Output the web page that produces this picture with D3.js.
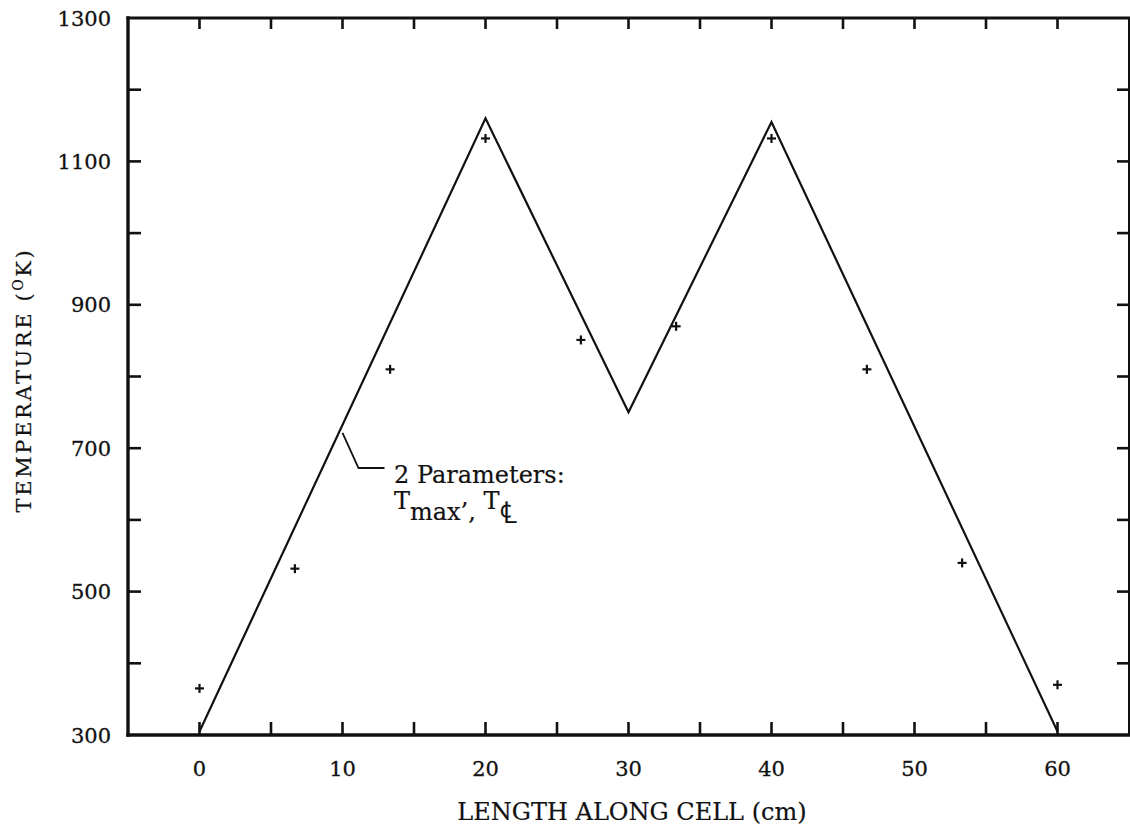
<!DOCTYPE html>
<html>
<head>
<meta charset="utf-8">
<script src="https://cdn.jsdelivr.net/npm/d3@7"></script>
<style>
  html, body { margin: 0; padding: 0; background: #fff; }
  svg { display: block; }
  text { font-family: "DejaVu Serif", "Liberation Serif", serif; fill: #111; }
</style>
</head>
<body>
<svg id="chart" width="1130" height="830"></svg>
<script>
// Two-parameter model profile (piecewise linear)
const modelX = [0, 20, 30, 40, 60];
const modelT = [305, 1160, 750, 1155, 305];

// Measured temperatures along the cell
const measX = [0, 6.67, 13.33, 20, 26.67, 33.33, 40, 46.67, 53.33, 60];
const measT = [365, 532, 810, 1132, 851, 870, 1132, 810, 540, 370];

// Axis tick values
const xTickLabels = [0, 10, 20, 30, 40, 50, 60];
const xTicksAll = [0, 5, 10, 15, 20, 25, 30, 35, 40, 45, 50, 55, 60];
const yTickLabels = [300, 500, 700, 900, 1100, 1300];
const yTicksAll = [400, 500, 600, 700, 800, 900, 1000, 1100, 1200];

const svg = d3.select("#chart");
const x = d3.scaleLinear().domain([-5, 65]).range([128, 1129]);
const y = d3.scaleLinear().domain([300, 1300]).range([735, 18]);

const ink = "#111";

// Frame
const frame = svg.append("g").attr("stroke", ink).attr("fill", "none").attr("stroke-linecap", "square");
frame.append("line").attr("x1", x(-5)).attr("x2", x(-5)).attr("y1", y(300)).attr("y2", y(1300)).attr("stroke-width", 3.4);
frame.append("line").attr("x1", x(-5)).attr("x2", x(65)).attr("y1", y(300)).attr("y2", y(300)).attr("stroke-width", 3.4);
frame.append("line").attr("x1", x(-5)).attr("x2", x(65)).attr("y1", y(1300)).attr("y2", y(1300)).attr("stroke-width", 3.2);
frame.append("line").attr("x1", x(65)).attr("x2", x(65)).attr("y1", y(300)).attr("y2", y(1300)).attr("stroke-width", 2);

// Inward ticks on all four sides
const ticks = svg.append("g").attr("stroke", ink).attr("stroke-width", 2.6);
ticks.selectAll(".tb").data(xTicksAll).join("line")
  .attr("x1", d => x(d)).attr("x2", d => x(d))
  .attr("y1", y(300)).attr("y2", y(300) - 13);
ticks.selectAll(".tt").data(xTicksAll).join("line")
  .attr("x1", d => x(d)).attr("x2", d => x(d))
  .attr("y1", y(1300)).attr("y2", y(1300) + 11);
ticks.selectAll(".tl").data(yTicksAll).join("line")
  .attr("x1", x(-5)).attr("x2", x(-5) + 13)
  .attr("y1", d => y(d)).attr("y2", d => y(d));
ticks.selectAll(".tr").data(yTicksAll).join("line")
  .attr("x1", x(65)).attr("x2", x(65) - 12)
  .attr("y1", d => y(d)).attr("y2", d => y(d));

// Tick labels
svg.append("g").selectAll("text").data(xTickLabels).join("text")
  .attr("x", d => x(d)).attr("y", 776)
  .attr("text-anchor", "middle").attr("font-size", 21)
  .attr("stroke", ink).attr("stroke-width", 0.3)
  .text(d => d);
svg.append("g").selectAll("text").data(yTickLabels).join("text")
  .attr("x", 111).attr("y", d => y(d) + 7.5)
  .attr("text-anchor", "end").attr("font-size", 21)
  .attr("stroke", ink).attr("stroke-width", 0.3)
  .text(d => d);

// Axis titles
svg.append("text")
  .attr("x", 632).attr("y", 820)
  .attr("text-anchor", "middle").attr("font-size", 24)
  .attr("stroke", ink).attr("stroke-width", 0.2)
  .text("LENGTH ALONG CELL (cm)");

const yt = svg.append("text")
  .attr("transform", "translate(31,380) rotate(-90)")
  .attr("text-anchor", "middle").attr("font-size", 21)
  .attr("letter-spacing", 2.6)
  .attr("stroke", ink).attr("stroke-width", 0.2);
yt.append("tspan").text("TEMPERATURE (");
yt.append("tspan").attr("font-size", 14).attr("dy", -8).text("O");
yt.append("tspan").attr("dy", 8).text("K)");

// Model line
const line = d3.line().x((d, i) => x(modelX[i])).y(d => y(d));
svg.append("path")
  .datum(modelT)
  .attr("d", line)
  .attr("fill", "none").attr("stroke", ink).attr("stroke-width", 2.2)
  .attr("stroke-linejoin", "miter");

// Measured points as small crosses
const cross = svg.append("g").attr("stroke", ink).attr("stroke-width", 2.2);
measX.forEach((mx, i) => {
  const cx = x(mx), cy = y(measT[i]);
  cross.append("line").attr("x1", cx - 4.5).attr("x2", cx + 4.5).attr("y1", cy).attr("y2", cy);
  cross.append("line").attr("x1", cx).attr("x2", cx).attr("y1", cy - 4.5).attr("y2", cy + 4.5);
});

// Annotation leader from the model line at x = 10
const ax = x(10), ay = y(300 + (1160 - 305) / 20 * 10 + 5);
svg.append("path")
  .attr("d", `M${ax},${ay + 8} L${ax + 16},${468} L${ax + 42},${468}`)
  .attr("fill", "none").attr("stroke", ink).attr("stroke-width", 1.8);

svg.append("text").attr("x", 394).attr("y", 483).attr("font-size", 24)
  .attr("stroke", ink).attr("stroke-width", 0.2)
  .text("2 Parameters:");
const t2 = svg.append("text").attr("x", 394).attr("y", 509).attr("font-size", 24)
  .attr("stroke", ink).attr("stroke-width", 0.2);
t2.append("tspan").text("T");
t2.append("tspan").attr("dy", 11).text("max’,");
t2.append("tspan").attr("dy", -11).text(" T");
t2.append("tspan").attr("dy", 14).attr("font-size", 30).text("℄");
</script>
</body>
</html>
